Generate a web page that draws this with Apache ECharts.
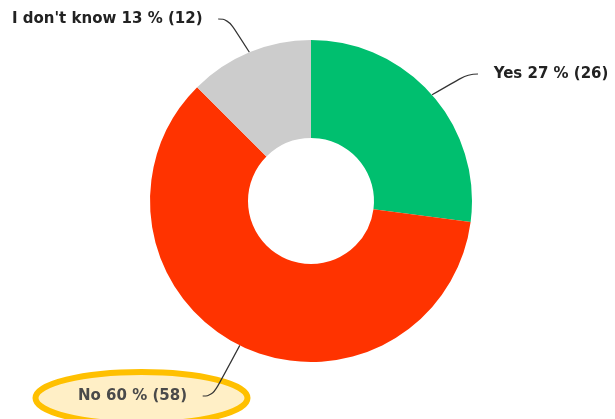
<!DOCTYPE html>
<html>
<head>
<meta charset="utf-8">
<script src="https://cdn.jsdelivr.net/npm/echarts@6/dist/echarts.min.js"></script>
<style>
html, body { margin: 0; padding: 0; background: #fff; }
#main { width: 615px; height: 419px; }
</style>
</head>
<body>
<div id="main"></div>
<script>
var myChart = echarts.init(document.getElementById('main'));

let categories = ['Yes', 'No', "I don't know"];
let percents = [27, 60, 13];
let counts = [26, 58, 12];
let colors = ['#00BF6F', '#FF3300', '#CCCCCC'];

// label placement: left x, middle y; spaces keep the leader line off the text
let labelPos = [
	{ x: 478, y: 74, before: '   ', after: '' },
	{ x: 78, y: 396, before: '', after: '   ' },
	{ x: 12, y: 19, before: '', after: '   ' }
];

let pieData = categories.map((name, i) => ({
	name: name,
	value: counts[i],
	pct: percents[i],
	itemStyle: { color: colors[i] },
	label: i === 1 ? { color: '#4a4a4a' } : {}
}));

option = {
	animation: false,
	graphic: [{
		type: 'ellipse',
		z: 0,
		shape: { cx: 141.5, cy: 398, rx: 106, ry: 26 },
		style: {
			fill: '#FFEFC6',
			stroke: '#FFC000',
			lineWidth: 6
		}
	}],
	series: [{
		type: 'pie',
		z: 5,
		center: [311, 201],
		radius: [63, 161],
		startAngle: 90,
		clockwise: true,
		label: {
			show: true,
			formatter: function(p) {
				let lp = labelPos[p.dataIndex];
				return lp.before + p.name + ' ' + p.data.pct + ' % (' + p.value + ')' + lp.after;
			},
			fontFamily: 'DejaVu Sans, sans-serif',
			fontSize: 15,
			fontWeight: 'bold',
			color: '#222'
		},
		labelLine: {
			show: true,
			smooth: 0.5,
			length: 12,
			length2: 10,
			lineStyle: {
				color: '#333',
				width: 1.2
			}
		},
		labelLayout: function(params) {
			let p = labelPos[params.dataIndex];
			return {
				x: p.x,
				y: p.y,
				align: 'left',
				verticalAlign: 'middle'
			};
		},
		emphasis: { disabled: true },
		data: pieData
	}]
};
myChart.setOption(option);
</script>
</body>
</html>
